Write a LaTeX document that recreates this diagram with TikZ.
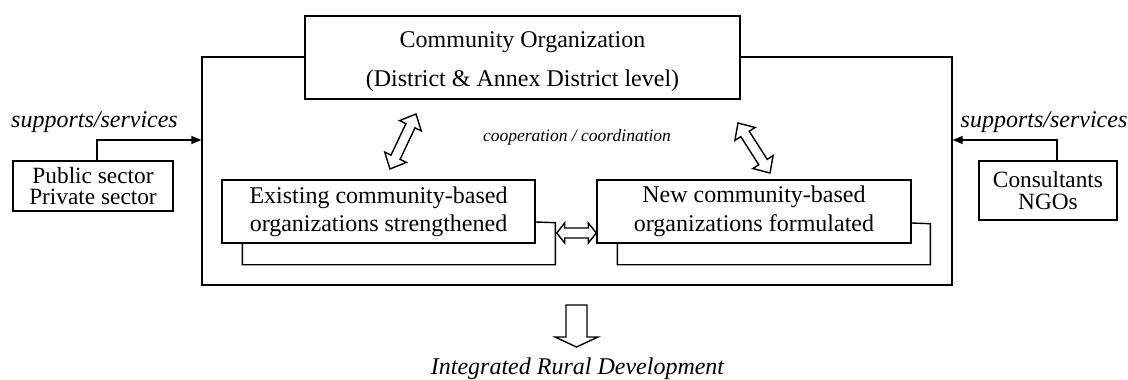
\documentclass[tikz,border=0pt]{standalone}
\usepackage{fontspec}
\setmainfont{Liberation Serif}
\usetikzlibrary{calc,arrows.meta}
\newcommand\myfatarrow[5]{%
  \coordinate (h1) at ($(#1)!#5!(#2)$);
  \coordinate (h2) at ($(#2)!#5!(#1)$);
  \draw[fill=white] (#1) -- ($(h1)!#4!90:(#2)$) -- ($(h1)!#3!90:(#2)$)
    -- ($(h2)!#3!-90:(#1)$) -- ($(h2)!#4!-90:(#1)$) -- (#2)
    -- ($(h2)!#4!90:(#1)$) -- ($(h2)!#3!90:(#1)$)
    -- ($(h1)!#3!-90:(#2)$) -- ($(h1)!#4!-90:(#2)$) -- cycle;}
\begin{document}
\begin{tikzpicture}[x=1pt,y=-1pt,line width=1.4pt,line join=miter,
  box/.style={draw,fill=white,inner sep=0pt,align=center},
  arr/.style={-{Triangle[length=10pt,width=8pt]}},
  lbl/.style={inner sep=0pt,font=\itshape\fontsize{24}{28}\selectfont}]
\useasboundingbox (0,0) rectangle (1128,380);
% outer frame and top box
\node[draw,inner sep=0pt,minimum width=750pt,minimum height=228pt] (outer) at (577,171) {};
\node[box,minimum width=435pt,minimum height=83pt] (co) at (522.5,57.5) {};
\node[inner sep=0pt,align=center,font=\fontsize{24}{39}\selectfont] (cotext) at (522.5,62)
  {Community Organization\\(District \& Annex District level)};
% side boxes
\node[box,minimum width=160pt,minimum height=50pt,font=\fontsize{23.3}{21}\selectfont] (pub) at (93,186)
  {Public sector\\Private sector};
\node[box,minimum width=138pt,minimum height=59pt,font=\fontsize{23.3}{22.5}\selectfont] (con) at (1048,190.5)
  {Consultants\\NGOs};
\node[lbl] (sl) at (94.5,122) {supports/services};
\node[lbl] (sr) at (1044,122) {supports/services};
\draw[arr] ([xshift=4pt]pub.north) |- ([yshift=31pt]outer.west);
\draw[arr] ([xshift=9pt]con.north) |- ([yshift=31pt]outer.east);
% inner boxes with brackets
\node[box,minimum width=313pt,minimum height=63pt,font=\fontsize{24}{28}\selectfont] (exist) at (378.5,211.5)
  {Existing community-based\\organizations strengthened};
\draw ([xshift=21pt]exist.south west) -- ++(0,21) -- ++(313,0) -- ++(0,-42) -- ([yshift=-10.5pt]exist.east);
\node[box,minimum width=314pt,minimum height=63pt,font=\fontsize{24}{29}\selectfont] (new) at (754,211.5)
  {New community-based\\organizations formulated};
\draw ([xshift=21pt]new.south west) -- ++(0,21) -- ++(313,0) -- ++(0,-41) -- ([yshift=-11.5pt]new.east);
% horizontal double arrow
\coordinate (ha) at ([xshift=21pt,yshift=-21.5pt]exist.east);
\coordinate (hb) at ([yshift=-21.5pt]new.west);
\myfatarrow{ha}{hb}{5pt}{10pt}{8pt}
% diagonal double arrows
\coordinate (la) at (390,169);
\coordinate (lb) at (416,114);
\myfatarrow{la}{lb}{5pt}{12pt}{13pt}
\coordinate (ra) at (738,123);
\coordinate (rb) at (770,173);
\myfatarrow{ra}{rb}{5pt}{12pt}{13pt}
\node[inner sep=0pt,font=\itshape\fontsize{17.5}{20}\selectfont] (coop) at (577,137) {cooperation / coordination};
% down arrow
\coordinate (dtip) at (576.5,347);
\draw[fill=white] (566,305) -- (587,305) -- (587,337) -- (598,337) -- (dtip) -- (555,337) -- (566,337) -- cycle;
\node[inner sep=0pt,font=\itshape\fontsize{24}{28}\selectfont] (ird) at (577.5,369) {Integrated Rural Development};
\end{tikzpicture}
\end{document}
